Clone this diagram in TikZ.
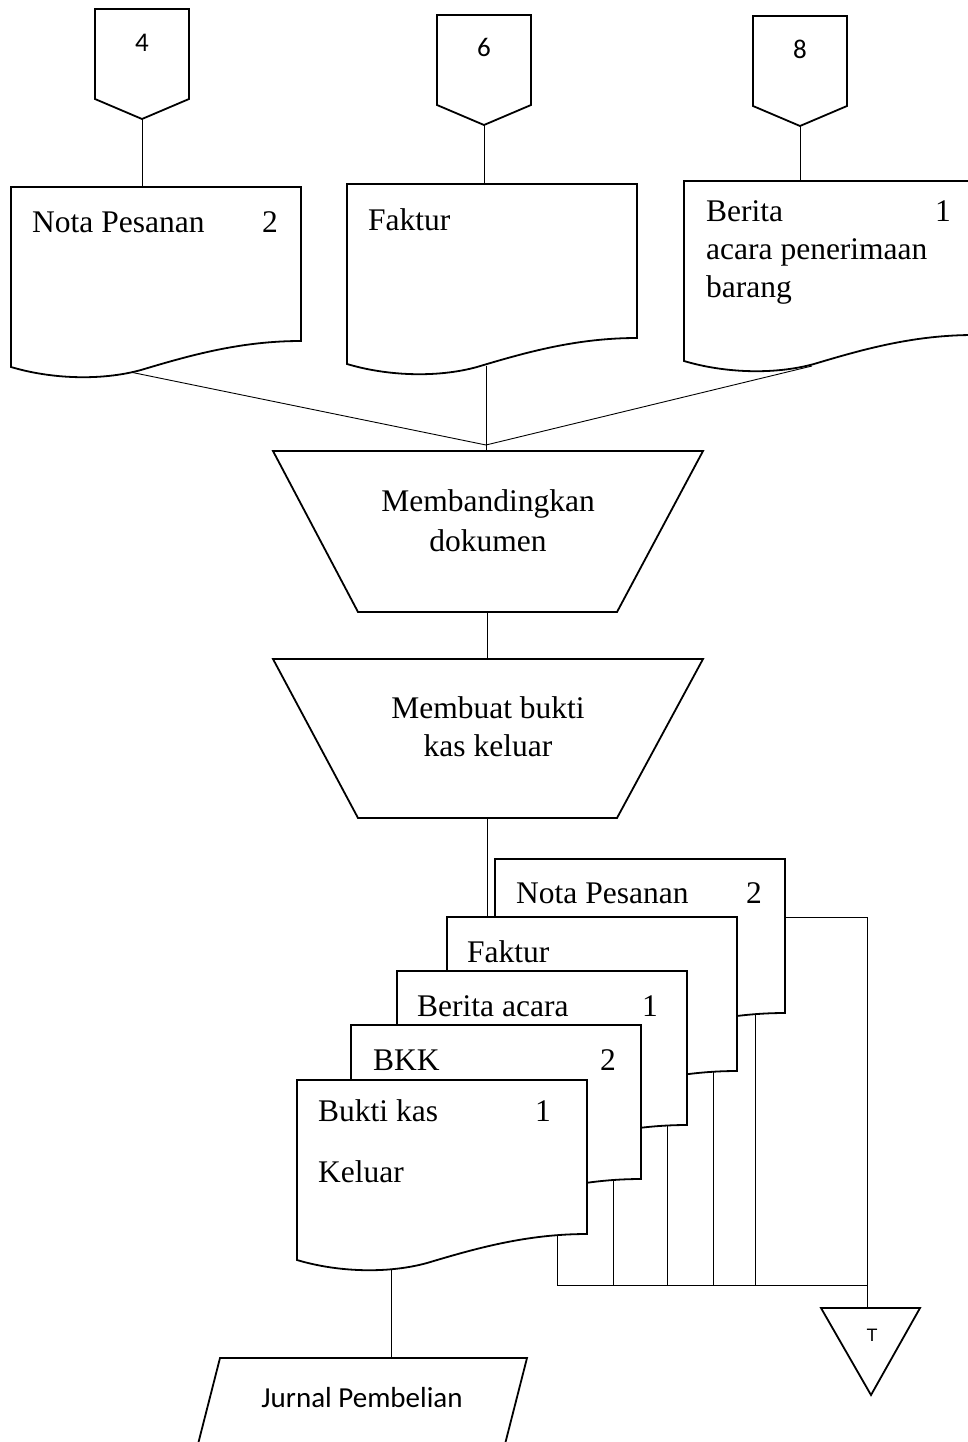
\documentclass[tikz,border=0pt]{standalone}
\usepackage{fontspec}
\setmainfont{Liberation Serif}
\newfontfamily\calibrisans{Carlito}
\newfontfamily\arialsans{Liberation Sans}
\pgfdeclarelayer{links}
\pgfsetlayers{links,main}
\tikzset{
  outline/.style={line width=1.8pt, line join=miter, fill=white},
  link/.style={line width=0.9pt},
  doctext/.style={font=\fontsize{31.5}{38}\selectfont, inner sep=0pt, anchor=base west},
  docnum/.style={font=\fontsize{31.5}{38}\selectfont, inner sep=0pt, anchor=base},
  proctext/.style={font=\fontsize{31.5}{38}\selectfont, inner sep=0pt, anchor=base},
  pagenum/.style={font=\calibrisans\fontsize{27}{32}\selectfont, inner sep=0pt, anchor=base},
  % paper document with a wavy lower edge, origin at its top-left corner
  docshape/.pic={
    \draw[outline] (0,0) -- (290,0) -- (290,154)
      .. controls (230,154) and (180,168) .. (130,183)
      .. controls (90,194) and (40,192) .. (0,180) -- cycle;
  },
  % off-page connector, origin at the middle of its top edge
  offpage/.pic={
    \draw[outline] (-47,0) -- (47,0) -- (47,90) -- (0,110) -- (-47,90) -- cycle;
  }
}
\begin{document}
\begin{tikzpicture}[x=1pt,y=-1pt]
\useasboundingbox (0,0) rectangle (968,1442);

% ---------- off-page connectors ----------
\pic at (142,9) {offpage};
\pic at (484,15) {offpage};
\pic at (800,16) {offpage};
\node[pagenum] (n4) at (142,52) {4};
\node[pagenum] (n6) at (484,57) {6};
\node[pagenum] (n8) at (800,59) {8};
\coordinate (c4) at (142,119);
\coordinate (c6) at (484,125);
\coordinate (c8) at (800,126);

% ---------- incoming documents ----------
\pic at (11,187) {docshape};
\pic at (347,184) {docshape};
\begin{scope}
  \clip (0,0) rectangle (968,1442);
  \pic at (684,181) {docshape};
\end{scope}
\coordinate (d1top) at (142,187);
\coordinate (d2top) at (484,184);
\coordinate (d3top) at (800,181);
\coordinate (d1out) at (130,372);
\coordinate (d2out) at (486,366);
\coordinate (d3out) at (812,366);
\coordinate (join) at (486,445);

\node[doctext] (d1a) at (32,232) {Nota Pesanan};
\node[docnum]  (d1n) at (270,232) {2};
\node[doctext] (d2a) at (368,230) {Faktur};
\node[doctext] (d3a) at (706,221) {Berita};
\node[docnum]  (d3n) at (943,221) {1};
\node[doctext] (d3b) at (706,259) {acara penerimaan};
\node[doctext] (d3c) at (706,297) {barang};

% ---------- manual operations ----------
\draw[outline] (273,451) -- (703,451) -- (617,612) -- (358,612) -- cycle;
\coordinate (p1top) at (486,451);
\coordinate (p1bot) at (487,612);
\node[proctext] (p1a) at (488,511) {Membandingkan};
\node[proctext] (p1b) at (488,551) {dokumen};

\draw[outline] (273,659) -- (703,659) -- (617,818) -- (358,818) -- cycle;
\coordinate (p2top) at (487,659);
\coordinate (p2bot) at (487,818);
\node[proctext] (p2a) at (488,718) {Membuat bukti};
\node[proctext] (p2b) at (488,756) {kas keluar};

% ---------- stack of outgoing documents ----------
\pic at (495,859) {docshape};
\pic at (447,917) {docshape};
\pic at (397,971) {docshape};
\pic at (351,1025) {docshape};
\pic at (297,1080) {docshape};

\node[doctext] (s1a) at (516,903) {Nota Pesanan};
\node[docnum]  (s1n) at (754,903) {2};
\node[doctext] (s2a) at (467,962) {Faktur};
\node[doctext] (s3a) at (417,1016) {Berita acara};
\node[docnum]  (s3n) at (650,1016) {1};
\node[doctext] (s4a) at (373,1070) {BKK};
\node[docnum]  (s4n) at (608,1070) {2};
\node[doctext] (s5a) at (318,1121) {Bukti kas};
\node[docnum]  (s5n) at (543,1121) {1};
\node[doctext] (s5b) at (318,1182) {Keluar};

\coordinate (s2top) at (487,917);
\coordinate (s1side) at (784,917);
\coordinate (s1out) at (755,1010);
\coordinate (s2out) at (713,1068);
\coordinate (s3out) at (667,1122);
\coordinate (s4out) at (613,1177);
\coordinate (s5out) at (557,1233);
\coordinate (s5bot) at (391,1262);
\coordinate (bus1) at (755,1285);
\coordinate (bus2) at (713,1285);
\coordinate (bus3) at (667,1285);
\coordinate (bus4) at (613,1285);
\coordinate (bus5) at (557,1285);
\coordinate (busend) at (867,1285);
\coordinate (riser) at (867,917);

% ---------- file and journal ----------
\draw[outline] (821,1308) -- (920,1308) -- (871,1395) -- cycle;
\coordinate (filetop) at (867,1308);
\node[font=\arialsans\fontsize{18}{22}\selectfont, inner sep=0pt, anchor=base] (tfile) at (872,1341) {T};

\begin{scope}
  \clip (0,0) rectangle (968,1442);
  \draw[outline] (220,1358) -- (527,1358) -- (503,1452) -- (196,1452) -- cycle;
\end{scope}
\coordinate (jtop) at (391,1358);
\node[font=\calibrisans\fontsize{29}{34}\selectfont, inner sep=0pt, anchor=base] (jurnal) at (362,1407) {Jurnal Pembelian};

% ---------- flow lines ----------
\begin{pgfonlayer}{links}
  \draw[link] (c4) -- (d1top);
  \draw[link] (c6) -- (d2top);
  \draw[link] (c8) -- (d3top);
  \draw[link] (d1out) -- (join);
  \draw[link] (d3out) -- (join);
  \draw[link] (d2out) -- (p1top);
  \draw[link] (p1bot) -- (p2top);
  \draw[link] (p2bot) -- (s2top);
  \draw[link] (s1side) -- (riser) -- (filetop);
  \draw[link] (s1out) -- (bus1);
  \draw[link] (s2out) -- (bus2);
  \draw[link] (s3out) -- (bus3);
  \draw[link] (s4out) -- (bus4);
  \draw[link] (s5out) -- (bus5) -- (busend);
  \draw[link] (s5bot) -- (jtop);
\end{pgfonlayer}
\end{tikzpicture}
\end{document}
